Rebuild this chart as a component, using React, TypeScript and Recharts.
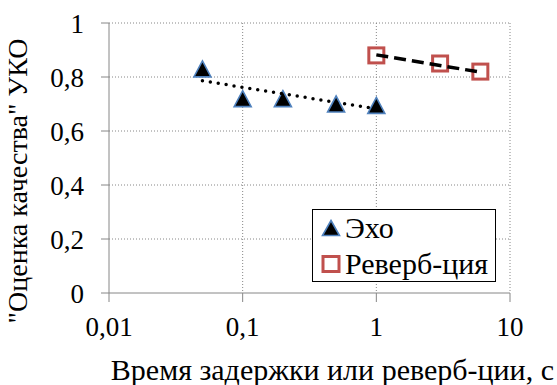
import { CartesianGrid, ComposedChart, Scatter, XAxis, YAxis } from "recharts";

const FONT = "'Liberation Serif', 'Times New Roman', serif";
const AXIS_GRAY = "#868686";
const ECHO_STROKE = "#4F81BD";
const REVERB_RED = "#C0504D";

// Эхо
const echoX = [0.05, 0.1, 0.2, 0.5, 1];
const echoY = [0.83, 0.72, 0.72, 0.7, 0.695];
// Реверб-ция
const reverbX = [1, 3, 6];
const reverbY = [0.88, 0.85, 0.82];
// trend lines (end points)
const echoTrendX = [0.05, 1];
const echoTrendY = [0.786, 0.682];
const reverbTrendX = [1, 6];
const reverbTrendY = [0.882, 0.818];

const xTicks = [0.01, 0.1, 1, 10];
const yTicks = [0, 0.2, 0.4, 0.6, 0.8, 1];

const zip = (xs: number[], ys: number[]) => xs.map((x, i) => ({ x, y: ys[i] }));
const echo = zip(echoX, echoY);
const reverb = zip(reverbX, reverbY);
const echoTrend = zip(echoTrendX, echoTrendY);
const reverbTrend = zip(reverbTrendX, reverbTrendY);

const fmt = (v: number) => String(v).replace(".", ",");

function Triangle(props: any) {
  const { cx, cy } = props;
  const w = 17;
  const h = 16;
  return (
    <path
      d={`M${cx},${cy - h / 2} L${cx + w / 2},${cy + h / 2} L${cx - w / 2},${cy + h / 2} Z`}
      fill="#000"
      stroke={ECHO_STROKE}
      strokeWidth={1.6}
    />
  );
}

function Square(props: any) {
  const { cx, cy } = props;
  const s = 15;
  return (
    <rect x={cx - s / 2} y={cy - s / 2} width={s} height={s} fill="#fff" stroke={REVERB_RED} strokeWidth={3} />
  );
}

const noShape = () => <g />;

function LegendBox() {
  const row = { display: "flex", alignItems: "center", height: 36 } as const;
  return (
    <div
      style={{
        position: "absolute",
        left: 312,
        top: 209,
        border: "1.5px solid #000",
        background: "#fff",
        width: 184,
        height: 73,
        boxSizing: "border-box",
        fontFamily: FONT,
        fontSize: 30,
        lineHeight: "36px",
        color: "#000",
        paddingLeft: 8,
      }}
    >
      <div style={row}>
        <svg width={20} height={18} style={{ marginRight: 4 }}>
          <path d="M10,1.5 L18.5,16.5 L1.5,16.5 Z" fill="#000" stroke={ECHO_STROKE} strokeWidth={1.6} />
        </svg>
        <span>Эхо</span>
      </div>
      <div style={row}>
        <svg width={20} height={18} style={{ marginRight: 4 }}>
          <rect x={2} y={1.5} width={16} height={15} fill="#fff" stroke={REVERB_RED} strokeWidth={3} />
        </svg>
        <span>Реверб-ция</span>
      </div>
    </div>
  );
}

export default function App() {
  return (
    <div style={{ position: "absolute", left: 0, top: 0, width: 557, height: 385, background: "#fff" }}>
      <ComposedChart width={557} height={385} margin={{ top: 23, right: 47, bottom: 0, left: 0 }}>
        <CartesianGrid stroke={AXIS_GRAY} strokeDasharray="1 2" horizontalValues={[0.2, 0.4, 0.6, 0.8, 1]} verticalValues={[0.1, 1, 10]} />
        <XAxis
          type="number"
          dataKey="x"
          scale="log"
          domain={[0.01, 10]}
          ticks={xTicks}
          tickFormatter={fmt}
          height={92}
          tickSize={9}
          tickMargin={15}
          stroke={AXIS_GRAY}
          tick={{ fill: "#000", fontSize: 27, fontFamily: FONT }}
          allowDataOverflow
          label={{
            value: "Время задержки или реверб-ции, с",
            position: "insideBottomRight",
            offset: 5,
            dx: 49,
            fill: "#000",
            fontSize: 30,
            fontFamily: FONT,
          }}
        />
        <YAxis
          type="number"
          dataKey="y"
          domain={[0, 1]}
          ticks={yTicks}
          tickFormatter={fmt}
          width={109}
          tickSize={8}
          tickMargin={17}
          stroke={AXIS_GRAY}
          tick={{ fill: "#000", fontSize: 27, fontFamily: FONT }}
          label={{
            value: '"Оценка качества" УКО',
            angle: -90,
            position: "insideLeft",
            dx: 12,
            dy: 23,
            fill: "#000",
            fontSize: 28,
            fontFamily: FONT,
            textAnchor: "middle",
          }}
        />
        <Scatter name="Эхо" data={echo} shape={Triangle} isAnimationActive={false} />
        <Scatter name="Реверб-ция" data={reverb} shape={Square} isAnimationActive={false} />
        <Scatter
          data={echoTrend}
          shape={noShape}
          line={{ stroke: "#000", strokeWidth: 3.5, strokeDasharray: "0 8", strokeLinecap: "round" }}
          lineType="joint"
          legendType="none"
          isAnimationActive={false}
        />
        <Scatter
          data={reverbTrend}
          shape={noShape}
          line={{ stroke: "#000", strokeWidth: 3.5, strokeDasharray: "12 6" }}
          lineType="joint"
          legendType="none"
          isAnimationActive={false}
        />
      </ComposedChart>
      <LegendBox />
    </div>
  );
}
